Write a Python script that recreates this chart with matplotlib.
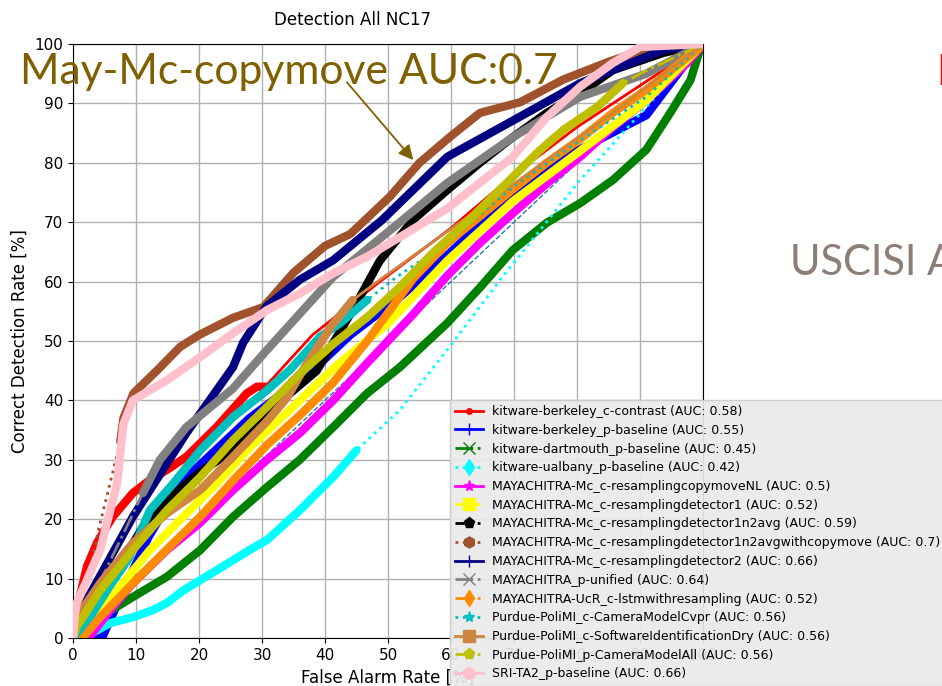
import matplotlib
matplotlib.use('Agg')
import matplotlib.pyplot as plt
from matplotlib.lines import Line2D

# ROC curves, false alarm rate [%] vs correct detection rate [%]
names = ['kitware-berkeley_c-contrast', 'kitware-berkeley_p-baseline',
         'kitware-dartmouth_p-baseline', 'kitware-ualbany_p-baseline',
         'MAYACHITRA-Mc_c-resamplingcopymoveNL', 'MAYACHITRA-Mc_c-resamplingdetector1',
         'MAYACHITRA-Mc_c-resamplingdetector1n2avg',
         'MAYACHITRA-Mc_c-resamplingdetector1n2avgwithcopymove',
         'MAYACHITRA-Mc_c-resamplingdetector2', 'MAYACHITRA_p-unified',
         'MAYACHITRA-UcR_c-lstmwithresampling', 'Purdue-PoliMI_c-CameraModelCvpr',
         'Purdue-PoliMI_c-SoftwareIdentificationDry', 'Purdue-PoliMI_p-CameraModelAll',
         'SRI-TA2_p-baseline']
auc = [0.58, 0.55, 0.45, 0.42, 0.5, 0.52, 0.59, 0.7, 0.66, 0.64, 0.52, 0.56, 0.56, 0.56, 0.66]

fa_red = [0, 0.6, 2.2, 3.8, 6.3, 9.5, 12.2, 14.9, 18, 22.8, 27.6, 29.2, 30.5, 38, 48.7, 60, 70, 80, 90, 100]
cd_red = [0, 4.7, 12, 16, 20.4, 24.4, 26.6, 28.3, 30.5, 35.5, 41.2, 42.3, 42.3, 51, 60, 69, 78, 86, 93, 100]

fa_blue = [0, 4.6, 8, 12, 17, 23, 28, 33, 39, 44, 52, 59, 70, 80, 91, 98, 100]
cd_blue = [0, 0, 8, 17, 26, 32, 37, 41, 46, 51, 57.5, 64, 75, 82, 88, 97.8, 100]

fa_green = [0, 2.2, 4.3, 9.5, 14.9, 20.2, 25.4, 30.8, 36, 41.3, 46.7, 51.9, 59.4, 64.6, 69.8,
            75.2, 80.5, 85.7, 91, 94.8, 98, 99.5, 100]
cd_green = [0, 1.9, 3.5, 6.9, 10.3, 14.8, 20.4, 25.4, 30, 35.5, 41.2, 45.6, 53, 59, 65.3,
            69.9, 73.2, 77.1, 82.2, 88.4, 93.9, 99, 100]

fa_cyan = [1.6, 5.9, 9.5, 12.7, 14.9, 17.5, 22.8, 28, 30.8, 36, 39.2, 41.3, 45,
           51.9, 59.4, 67.8, 80.5, 91, 96.3, 100]
cd_cyan = [0, 2.5, 3.5, 4.7, 5.9, 8, 11.4, 14.8, 16.5, 21.5, 24.9, 27.1, 31.6,
           38.4, 48.5, 60.3, 77.1, 89.4, 95.6, 100]

fa_mag = [0, 2.5, 5.9, 9.5, 14.9, 20.2, 25.4, 30.8, 36, 41.3, 46.7, 54, 59.4, 64.6, 69.8,
          75.2, 80.5, 85.7, 91, 97.5, 100]
cd_mag = [0, 0, 4.7, 9.2, 14.8, 19.4, 24.9, 30, 34.5, 40, 46.3, 54.5, 61, 66.5, 71.5,
          76.5, 81, 86, 90.5, 96.8, 100]

fa_yel = [1.5, 7, 12.2, 17.5, 22.8, 28, 35, 42, 50, 59.4, 69.8, 80.5, 91, 100]
cd_yel = [0, 8, 14.8, 20.4, 26, 32, 39, 46, 53, 63.5, 73.5, 82, 90.5, 100]

fa_black = [0, 5, 11.1, 14.9, 20, 25.4, 30.8, 38.7, 44.4, 48.7, 54, 59.4, 64.6, 69.8,
            75.2, 80.5, 85.7, 93.7, 100]
cd_black = [0, 8, 18.7, 23.2, 27.8, 31.6, 37.9, 45, 55.2, 63.5, 70.4, 75.4, 80, 84.3,
            88.4, 91.7, 95.6, 98.5, 100]

fa_brown = [0, 1, 4, 7.5, 8, 9.6, 13.3, 17, 20, 25.4, 30.2, 35, 40, 44, 50.3, 55, 60,
            64.6, 71, 77.8, 85, 92, 100]
cd_brown = [0, 4, 18, 33, 37, 41.2, 45, 49, 51, 53.9, 55.7, 61.5, 66, 68, 74.3, 80, 84.5,
            88.4, 90.2, 94, 97, 99.5, 100]

fa_navy = [0, 2.2, 9.5, 18, 25.4, 27, 30.7, 36, 41.3, 49, 59.4, 70, 80.5, 93.7, 100]
cd_navy = [0, 6.4, 20.4, 34.5, 45.6, 49.7, 55.8, 60.3, 63.6, 70.3, 81, 87.2, 93.4, 99, 100]

fa_gray = [0, 5, 11.1, 13.8, 18, 25.4, 30.8, 41.3, 51.9, 59.4, 69.8, 80.5, 91, 100]
cd_gray = [0, 11, 24.4, 30, 35.5, 42, 48.5, 60.8, 70, 76.6, 84.3, 91.1, 95, 100]

fa_orange = [1.5, 4.3, 9.5, 15, 20.2, 25.4, 30.8, 36, 41.3, 46.7, 54, 59.4, 64.6, 69.8,
             75.2, 80.5, 85.7, 91, 99, 100]
cd_orange = [0, 3.5, 9.2, 15, 20.4, 26.5, 32.5, 37.5, 43, 50, 60.5, 66.5, 71, 75.5,
             80, 84, 88.4, 92.3, 99, 100]

fa_teal = [0, 3, 6, 9, 12.2, 15.9, 20.2, 25.4, 30.8, 34.4, 39.2, 42.4, 46.7, 51.4, 59.4,
           69.8, 80.5, 91, 100]
cd_teal = [0, 4, 9, 13.6, 21.5, 26, 31.6, 37.2, 41.7, 45.1, 50.7, 53, 56.9, 60.8, 66.5,
           75.9, 83.8, 91.1, 100]

fa_peru = [0, 0.6, 4.3, 9.5, 14.9, 20.2, 25.4, 30.8, 34, 37, 41, 44.4, 48.7, 85.7, 100]
cd_peru = [0, 3.5, 9.2, 16, 21, 24.9, 30.5, 36.5, 40.5, 46, 52.5, 56.9, 60.3, 88.4, 100]

fa_olive = [0, 0.6, 4.3, 9.5, 14.9, 20.2, 25.4, 30.8, 36, 41.3, 46.7, 51.9, 57.1, 63,
            69.8, 74, 77.8, 83.2, 87.3, 90, 100]
cd_olive = [0, 1.9, 8, 14.8, 21.5, 27.1, 33.3, 38.9, 44.5, 49.5, 54, 59.1, 64.8, 70.5,
            77.6, 82, 85.5, 89.4, 93.4, 95, 100]

fa_pink = [0, 0.3, 0.6, 4.3, 7, 8, 9.5, 14.9, 20.2, 25.4, 30.8, 36, 41.3, 46.7, 51.9,
           59.4, 69.8, 75.2, 80.5, 85.7, 90, 100]
cd_pink = [0, 4, 5.9, 14.8, 26, 36, 40, 43.4, 47.3, 51.3, 55.2, 58, 61.4, 64.2, 67.5,
           72.3, 81, 87.7, 92.8, 96.8, 99.5, 100]

fa = [fa_red, fa_blue, fa_green, fa_cyan, fa_mag, fa_yel, fa_black, fa_brown, fa_navy,
      fa_gray, fa_orange, fa_teal, fa_peru, fa_olive, fa_pink]
cd = [cd_red, cd_blue, cd_green, cd_cyan, cd_mag, cd_yel, cd_black, cd_brown, cd_navy,
      cd_gray, cd_orange, cd_teal, cd_peru, cd_olive, cd_pink]

colors = ['red', 'blue', 'green', 'cyan', 'magenta', 'yellow', 'black', 'sienna', 'navy',
          'gray', 'darkorange', 'c', 'peru', 'y', 'pink']
styles = ['-', '-', '-.', ':', '-', '--', '-.', ':', '-', '-.', '-.', ':', '-', '-.', '-']
markers = ['.', '+', 'x', 'd', '*', 's', 'p', 'h', '+', 'x', 'd', '*', 's', 'p', 'o']
# index range (start, stop) of densely sampled part, drawn as a thick band
dense = [(0, 13), (0, 17), (0, 23), (0, 13), (0, 21), (0, 14), (0, 19), (3, 23), (0, 15),
         (2, 14), (0, 20), (0, 13), (0, 12), (0, 19), (0, 22)]

fig = plt.figure(figsize=(9.42, 6.86), dpi=100)
ax = fig.add_axes([0.0775, 0.07, 0.6688, 0.8659])

ax.plot([0, 100], [0, 100], '--', color='tab:blue', lw=1, zorder=1)
for i in range(len(fa)):
    x, y = fa[i], cd[i]
    a, b = dense[i]
    ax.plot(x, y, color=colors[i], ls=styles[i], lw=2, zorder=2 + i)
    ax.plot(x[a:b], y[a:b], color=colors[i], ls='-', lw=6,
            solid_capstyle='round', solid_joinstyle='round', zorder=2 + i)

ax.set_xlim(0, 100)
ax.set_ylim(0, 100)
ax.set_xticks(range(0, 101, 10))
ax.set_yticks(range(0, 101, 10))
ax.tick_params(labelsize=11)
ax.grid(True, color='#b0b0b0', lw=1)
ax.set_axisbelow(True)
ax.set_xlabel('False Alarm Rate [%]', fontsize=12)
ax.set_ylabel('Correct Detection Rate [%]', fontsize=12)
fig.text(352 / 942, 1 - 20 / 686, 'Detection All NC17', fontsize=12, ha='center', va='center')

handles = [Line2D([], [], color=colors[i], ls=styles[i], lw=2, marker=markers[i], markersize=8)
           for i in range(len(names))]
labels = ['%s (AUC: %s)' % (names[i], auc[i]) for i in range(len(names))]
fig.legend(handles, labels, loc='upper left', bbox_to_anchor=(450 / 942, 1 - 400 / 686),
           fontsize=9, frameon=True, facecolor='#eaeaea', edgecolor='#cccccc', framealpha=0.92,
           labelspacing=0.46, handlelength=2.2, borderaxespad=0, fancybox=False)

# slide annotations
ink = '#7f6000'
fig.text(20 / 942, 1 - 72 / 686, 'May-Mc-copymove AUC:0.7', fontsize=30.7, color=ink,
         family='Lato', va='center', ha='left')
ax.annotate('', xy=(54.3, 80.1), xytext=(43.2, 93.9),
            arrowprops=dict(arrowstyle='-|>', color=ink, lw=1.3, mutation_scale=22))
fig.text(790 / 942, 1 - 263 / 686, 'USCISI A', fontsize=30, color='#8c7d77',
         family='Lato', va='center', ha='left')
fig.text(936 / 942, 1 - 73 / 686, 'N', fontsize=30, color='red', family='Lato',
         va='center', ha='left')

fig.savefig('out.png', dpi=100)
